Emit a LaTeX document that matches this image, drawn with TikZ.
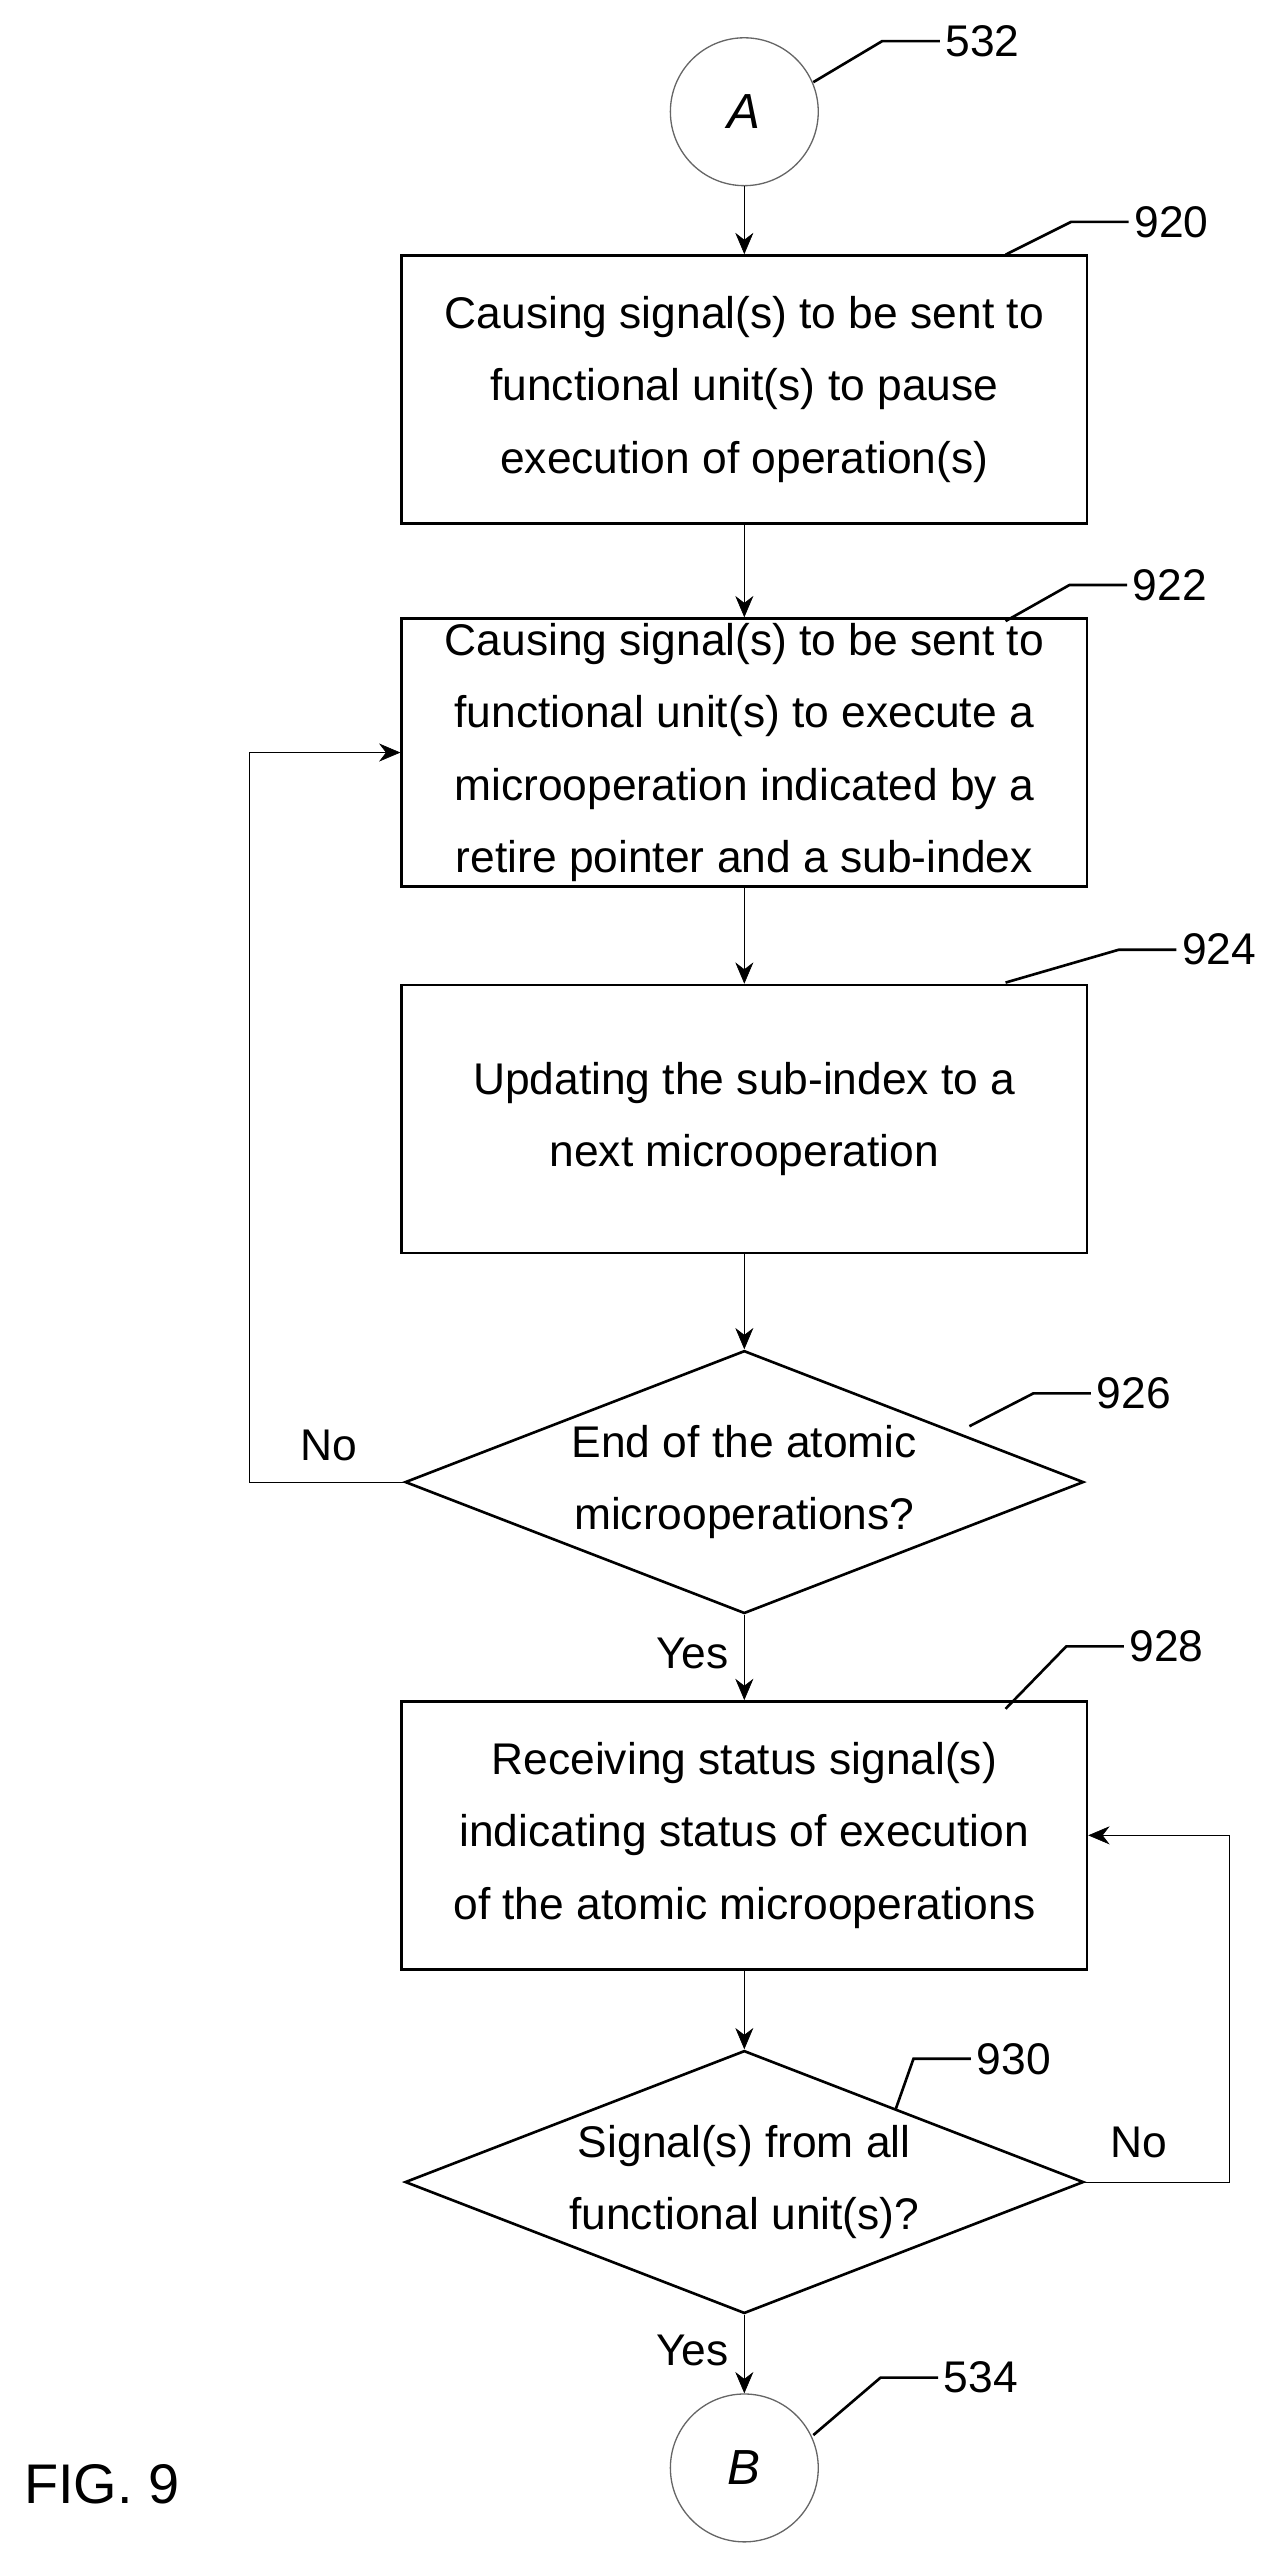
\documentclass[tikz,border=0pt]{standalone}
\usepackage{fontspec}
\setmainfont{Liberation Sans}
\usetikzlibrary{
  shapes,
  arrows.meta,
  positioning,  % Function "of" (e.g. [right=of x])
  calc,         % Calculations $...$
}
\tikzset{
  x=1pt, y=-1pt,
  >={Stealth[length=13pt,width=11pt]},
  line width=2.2pt,
  my text/.style={
    font=\fontsize{27}{44}\selectfont,
    align=center
  },
  my box/.style={
    draw,
    line width=1.6pt,
    rectangle,
    my text,
    minimum width=417pt,
    minimum height=163pt,
    inner sep=0pt
  },
  my decision/.style={
    draw,
    line width=1.6pt,
    diamond,
    aspect=2.58,
    my text,
    minimum width=413pt,
    minimum height=160pt,
    inner sep=0pt
  },
  my connector/.style={
    draw,
    circle,
    line width=0.8pt,
    draw=black!60,
    minimum size=90pt,
    font=\fontsize{30}{36}\selectfont\itshape
  },
  my ref/.style={
    font=\fontsize{27}{32}\selectfont
  },
  leader/.style={
    line width=1.6pt
  }
}
\begin{document}
\begin{tikzpicture}
\useasboundingbox (0,0) rectangle (770,1555);
\node[my connector] (A)   at (453,68)   {A};
\node[my box]       (920) at (453,237)  {Causing signal(s) to be sent to\\functional unit(s) to pause\\execution of operation(s)};
\node[my box]       (922) at (453,458)  {Causing signal(s) to be sent to\\functional unit(s) to execute a\\microoperation indicated by a\\retire pointer and a sub-index};
\node[my box]       (924) at (453,681)  {Updating the sub-index to a\\next microoperation};
\node[my decision]  (926) at (453,902)  {End of the atomic\\microoperations?};
\node[my box]       (928) at (453,1117) {Receiving status signal(s)\\indicating status of execution\\of the atomic microoperations};
\node[my decision]  (930) at (453,1328) {Signal(s) from all\\functional unit(s)?};
\node[my connector] (B)   at (453,1502) {B};
\node[font=\fontsize{34}{40}\selectfont] (fig) at (62,1512) {FIG. 9};

% reference numerals
\node[my ref] (r532) at (598,25)   {532};
\node[my ref] (r920) at (713,135)  {920};
\node[my ref] (r922) at (712,356)  {922};
\node[my ref] (r924) at (742,578)  {924};
\node[my ref] (r926) at (690,848)  {926};
\node[my ref] (r928) at (710,1002) {928};
\node[my ref] (r930) at (617,1253) {930};
\node[my ref] (r534) at (597,1447) {534};
\coordinate (c532) at (495,50);
\coordinate (c920) at (612,155);
\coordinate (c922) at (612,378);
\coordinate (c924) at (612,598);
\coordinate (c926) at (590,868);
\coordinate (c928) at (612,1040);
\coordinate (c930) at (545,1284);
\coordinate (c534) at (495,1482);
\foreach \c in {532,920,922,924,926,928,930,534}
  \draw[leader] (c\c) -- ($(r\c.west)+(-35,0)$) -- (r\c.west);

% flow
\path[->] (A)   edge (920)
          (920) edge (922)
          (922) edge (924)
          (924) edge (926)
          (926) edge node[my text,left=6pt,pos=0.45]{Yes} (928)
          (928) edge (930)
          (930) edge node[my text,left=6pt,pos=0.45]{Yes} (B);
\draw[->] (926.west) -- (152,902) |- (922.west);
\draw[->] (930.east) -- (748,1328) |- (928.east);
\node[my text] (no926) at (200,880)  {No};
\node[my text] (no930) at (693,1304) {No};
\end{tikzpicture}
\end{document}
